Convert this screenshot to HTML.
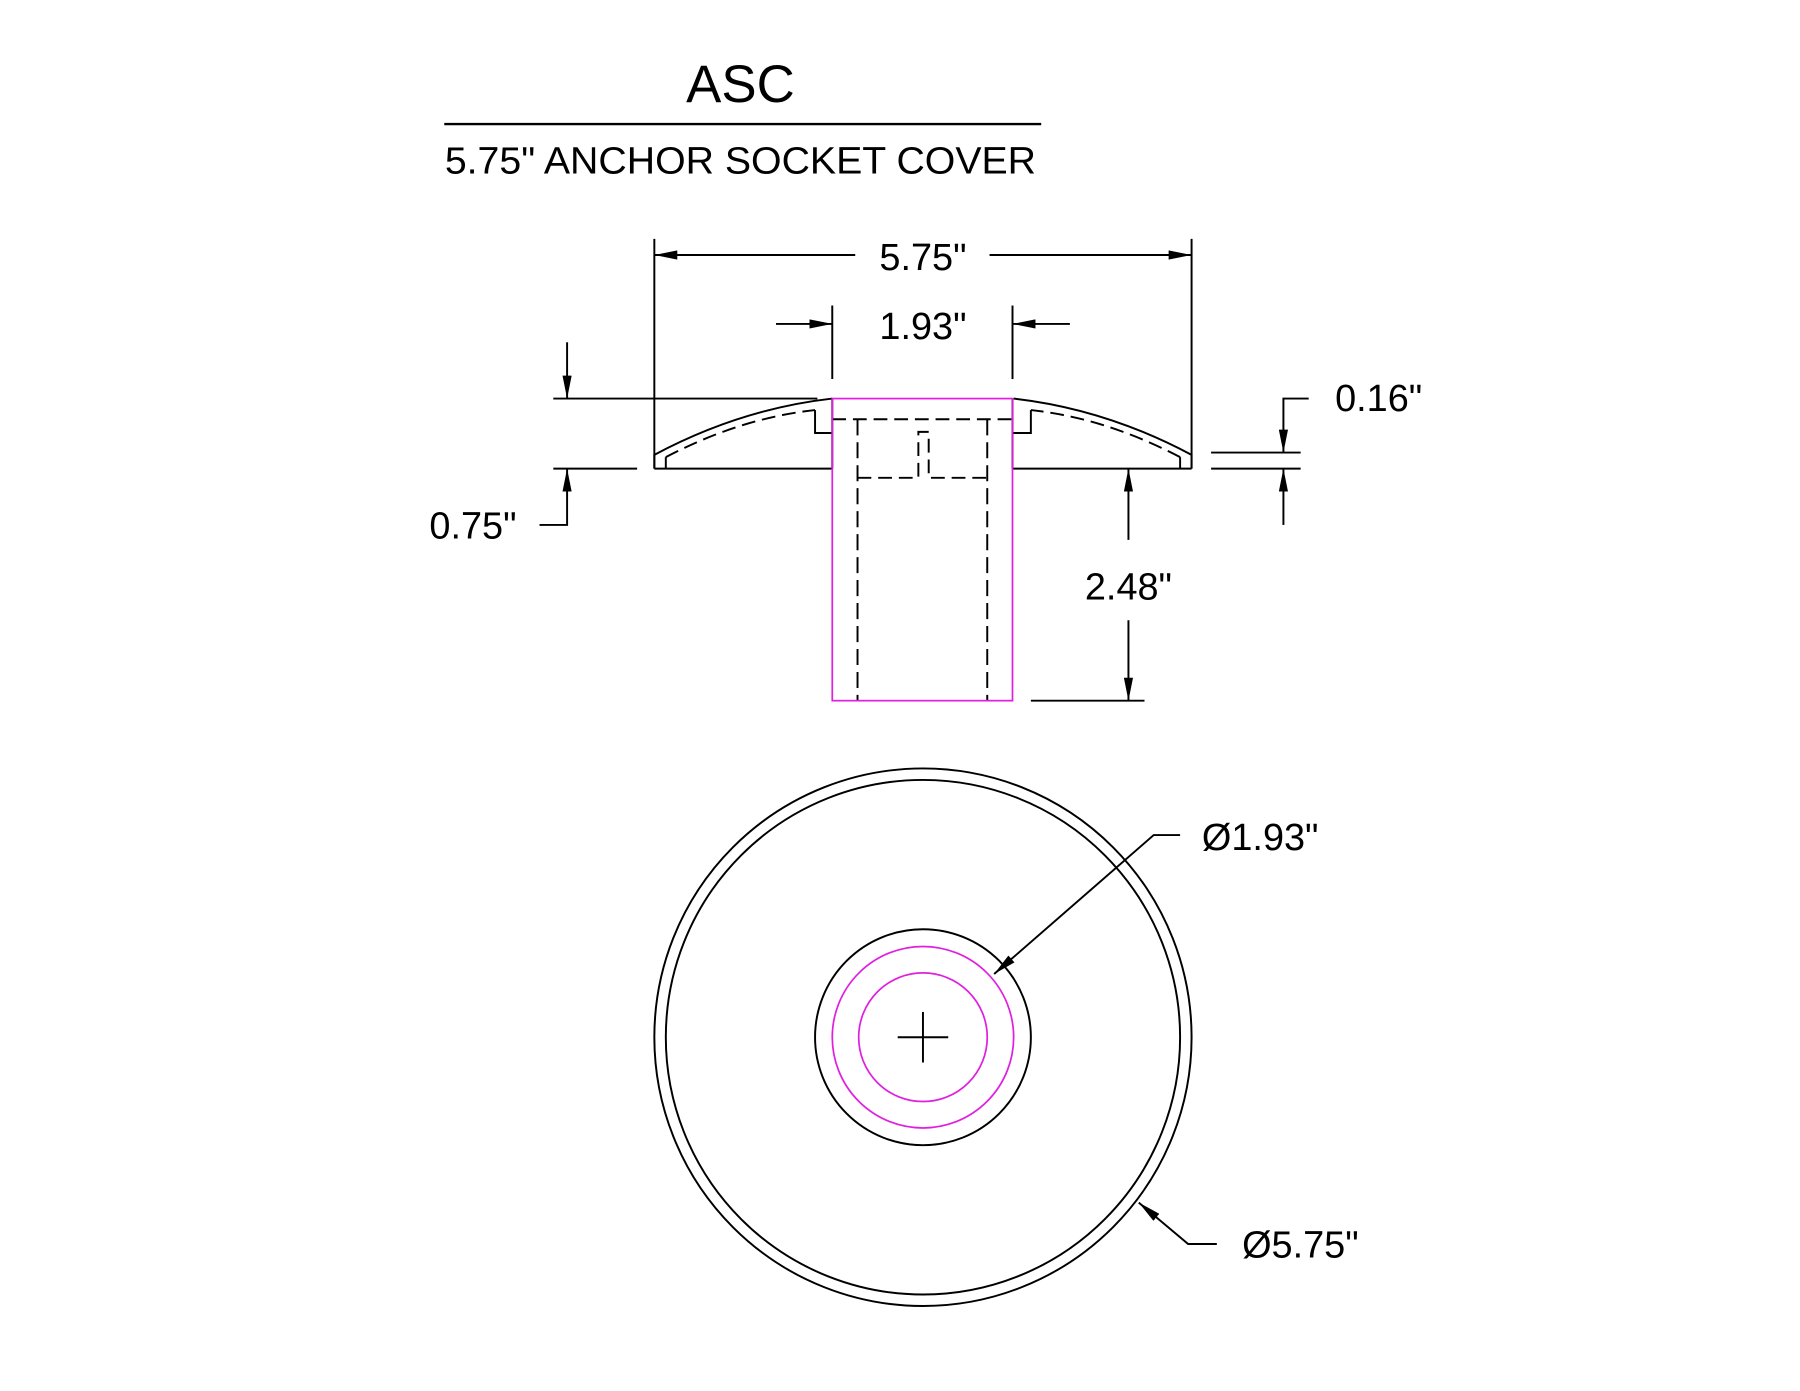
<!DOCTYPE html>
<html><head><meta charset="utf-8"><style>
html,body{margin:0;padding:0;background:#fff}
svg{display:block}
text{font-family:"Liberation Sans Narrow","Liberation Sans",sans-serif;fill:#000}
</style></head><body>
<svg width="1800" height="1391" viewBox="0 0 1568 1211" preserveAspectRatio="none" xmlns="http://www.w3.org/2000/svg">
<defs>
<marker id="a" viewBox="0 0 20 8" refX="20" refY="4" markerWidth="20" markerHeight="8" markerUnits="userSpaceOnUse" orient="auto"><path d="M0,0 L20,4 L0,8 Z" fill="#000"/></marker>
</defs>
<g stroke="#000" stroke-width="1.7" fill="none">
<line x1="387" y1="108" x2="907" y2="108" stroke-width="2"/>
<line x1="570" y1="208" x2="570" y2="408"/>
<line x1="1038" y1="208" x2="1038" y2="408"/>
<line x1="745" y1="222" x2="570" y2="222" marker-end="url(#a)"/>
<line x1="862" y1="222" x2="1038" y2="222" marker-end="url(#a)"/>
<line x1="725" y1="266" x2="725" y2="330"/>
<line x1="882" y1="266" x2="882" y2="330"/>
<line x1="676" y1="282" x2="725" y2="282" marker-end="url(#a)"/>
<line x1="932" y1="282" x2="882" y2="282" marker-end="url(#a)"/>
<path d="M570,408 L570,396 Q645,356 725,347"/>
<path d="M1038,408 L1038,396 Q963,356 883,347"/>
<line x1="570" y1="408" x2="725" y2="408"/>
<line x1="882" y1="408" x2="1038" y2="408"/>
<line x1="482" y1="347" x2="712" y2="347"/>
<line x1="482" y1="408" x2="555" y2="408"/>
<path d="M580,408 L580,398"/>
<path d="M1028,408 L1028,398"/>
<path d="M580,398 Q645,364 710,357" stroke-dasharray="12,6"/>
<path d="M1028,398 Q963,364 898,357" stroke-dasharray="12,6"/>
<path d="M710,357 L710,377 L725,377"/>
<path d="M898,357 L898,377 L882,377"/>
<line x1="725" y1="347" x2="725" y2="408"/>
<line x1="882" y1="347" x2="882" y2="408"/>
<line x1="725" y1="365" x2="882" y2="365" stroke-dasharray="12,6"/>
<line x1="747" y1="365" x2="747" y2="610" stroke-dasharray="14,6"/>
<line x1="860" y1="365" x2="860" y2="610" stroke-dasharray="14,6"/>
<path d="M747,416 L800,416 L800,376 L809,376 L809,416 L860,416" stroke-dasharray="12,6"/>
<line x1="983" y1="470" x2="983" y2="408" marker-end="url(#a)"/>
<line x1="983" y1="540" x2="983" y2="610" marker-end="url(#a)"/>
<line x1="898" y1="610" x2="997" y2="610"/>
<line x1="1055" y1="394" x2="1133" y2="394"/>
<line x1="1055" y1="408" x2="1133" y2="408"/>
<path d="M1140,347 L1118,347 L1118,394" marker-end="url(#a)"/>
<line x1="1118" y1="457" x2="1118" y2="408" marker-end="url(#a)"/>
<line x1="494" y1="298" x2="494" y2="347" marker-end="url(#a)"/>
<path d="M470,457 L494,457 L494,408" marker-end="url(#a)"/>
<circle cx="804" cy="903" r="234"/>
<circle cx="804" cy="903" r="224"/>
<circle cx="804" cy="903" r="94"/>
<line x1="782" y1="903" x2="826" y2="903"/>
<line x1="804" y1="881" x2="804" y2="925"/>
<path d="M1028,727 L1005,727 L866,848" marker-end="url(#a)"/>
<path d="M1060,1083 L1035,1083 L992,1047" marker-end="url(#a)"/>
</g>
<g stroke="#e020e0" stroke-width="1.5" fill="none">
<rect x="725" y="347" width="157" height="263"/>
<circle cx="804" cy="903" r="79"/>
<circle cx="804" cy="903" r="56"/>
</g>
<text x="645" y="89" font-size="46" text-anchor="middle">ASC</text>
<text x="645" y="151" font-size="33" text-anchor="middle" textLength="515" lengthAdjust="spacingAndGlyphs">5.75" ANCHOR SOCKET COVER</text>
<text x="804" y="235" font-size="33" text-anchor="middle">5.75"</text>
<text x="804" y="295" font-size="33" text-anchor="middle">1.93"</text>
<text x="983" y="522" font-size="33" text-anchor="middle">2.48"</text>
<text x="1163" y="358" font-size="33">0.16"</text>
<text x="450" y="469" font-size="33" text-anchor="end">0.75"</text>
<text x="1047" y="740" font-size="33">Ø1.93"</text>
<text x="1082" y="1095" font-size="33">Ø5.75"</text>
</svg>
</body></html>
